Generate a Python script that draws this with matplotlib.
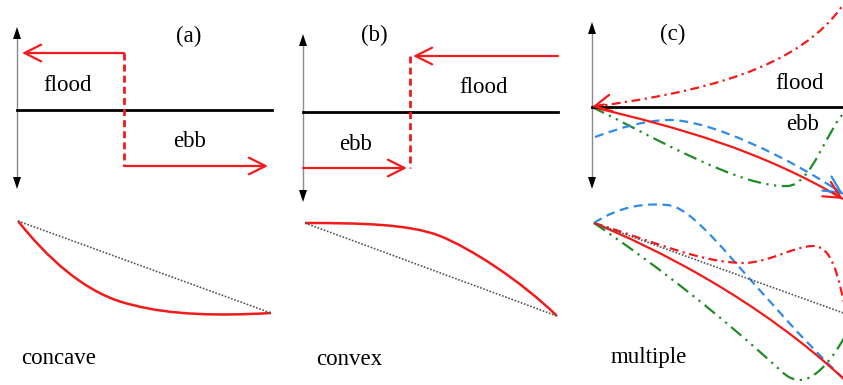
#!/usr/bin/env python3

# Flood/ebb schematic: three tidal asymmetry cases (concave, convex, multiple)

import numpy as np
from matplotlib import pyplot as plt
from matplotlib.path import Path
from matplotlib.patches import PathPatch
import matplotlib

params = {
    'font.family': 'serif',
    'font.serif': ['Liberation Serif', 'DejaVu Serif'],
    'font.size': 16.5,
    'figure.dpi': 100,
}
matplotlib.rcParams.update(params)

RED = '#f21a1a'
BLUE = '#2f8ae8'
GREEN = '#1f8c25'
GREY = '#8a8a8a'

# ---- data (picture pixel coordinates, y downward) ----
panel_labels = ['(a)', '(b)', '(c)']
label_pos = [(176, 42), (361, 41), (660, 40)]
axis_x = [17, 303, 592]
axis_top = [27, 34, 22]
axis_bot = [189, 202, 189]
zero_y = [110, 112, 107]
zero_x1 = [272, 558, 850]

flood_pos = [(43, 91), (459, 93), (775, 89)]
ebb_pos = [(173, 147), (339, 150), (786, 130)]
shape_names = ['concave', 'convex', 'multiple']
shape_pos = [(21, 364), (316, 365), (611, 363)]

# (a) step: flood arrow, dashed turn, ebb arrow
a_flood = [(124, 53), (22, 53)]
a_turn = [(124, 53), (124, 166)]
a_ebb = [(124, 166), (268, 166)]
# (b)
b_flood = [(558, 56), (413, 56)]
b_turn = [(410, 56), (410, 168)]
b_ebb = [(303, 168), (407, 168)]

# (c) top curves, cubic bezier control points
c_red = [(592, 107), (680, 128), (760, 150), (843, 199)]
c_blue = [(595, 137), (620, 128), (645, 120), (670, 120),
          (710, 120), (790, 158), (843, 194)]
c_green = [(592, 107), (650, 135), (740, 188), (787, 186),
           (812, 186), (828, 125), (847, 110)]
c_flood = [(592, 107), (700, 92), (800, 70), (845, 2)]

# bottom curves
a_chord = [(18, 221), (271, 313)]
a_curve = [(18, 221), (45, 255), (85, 295), (133, 305),
           (170, 315), (220, 316), (271, 313)]
b_chord = [(305, 223), (557, 316)]
b_curve = [(305, 223), (360, 223), (410, 224), (440, 236),
           (470, 248), (520, 280), (557, 316)]
c_chord = [(594, 223), (860, 319)]
m_red = [(594, 223), (655, 248), (760, 300), (847, 382)]
m_blue = [(594, 223), (620, 206), (645, 203), (667, 205),
          (700, 207), (750, 290), (847, 382)]
m_reddash = [(594, 223), (650, 240), (700, 263), (745, 263),
             (770, 262), (795, 246), (813, 246),
             (832, 246), (838, 275), (846, 312)]
m_green = [(594, 223), (660, 268), (720, 315), (780, 370),
           (795, 385), (815, 390), (847, 333)]

fig = plt.figure(figsize=(8.43, 3.85))
ax = fig.add_axes([0, 0, 1, 1])
ax.set_xlim(0, 843)
ax.set_ylim(385, 0)
ax.axis('off')

head = '->,head_length=1.2,head_width=0.6'


def bez(pts, **kw):
    codes = [Path.MOVETO] + [Path.CURVE4] * (len(pts) - 1)
    ax.add_patch(PathPatch(Path(pts, codes), fill=False, capstyle='butt', **kw))


def arrow(p0, p1, color=RED, lw=1.6):
    ax.annotate('', xy=p1, xytext=p0,
                arrowprops=dict(arrowstyle=head, color=color, lw=lw,
                                shrinkA=0, shrinkB=0, mutation_scale=10))


def tri(x, ytip, d):
    # filled black arrow tip on the vertical axis; d=-1 up, +1 down
    ax.fill([x - 4, x + 4, x], [ytip - d * 12, ytip - d * 12, ytip],
            color='k', lw=0, zorder=4)


for i in range(3):
    ax.plot([axis_x[i], axis_x[i]], [axis_top[i] + 6, axis_bot[i] - 6],
            color=GREY, lw=1)
    tri(axis_x[i], axis_top[i], -1)
    tri(axis_x[i], axis_bot[i], 1)
    ax.plot([axis_x[i], zero_x1[i]], [zero_y[i], zero_y[i]], color='k', lw=2)
    ax.text(*label_pos[i], panel_labels[i], ha='left', va='baseline')
    ax.text(*flood_pos[i], 'flood', ha='left', va='baseline')
    ax.text(*ebb_pos[i], 'ebb', ha='left', va='baseline')
    ax.text(*shape_pos[i], shape_names[i], ha='left', va='baseline')

# (a)
arrow(*a_flood)
arrow(*a_ebb)
ax.plot(*zip(*a_turn), color=RED, lw=2, ls=(0, (2.5, 1.5)))
# (b)
arrow(*b_flood)
arrow(*b_ebb)
ax.plot(*zip(*b_turn), color=RED, lw=2, ls=(0, (2.5, 1.5)))

# (c) top
bez(c_flood, color=RED, lw=1.6, ls=(0, (4, 2, 1, 2)))
arrow((604, 104.5), (592, 107))
bez(c_green, color=GREEN, lw=1.6, ls=(0, (6, 2.5, 1, 2.5, 1, 2.5)))
bez(c_blue, color=BLUE, lw=1.6, ls=(0, (4, 2.5)))
arrow((833, 187.5), (843, 194), color=BLUE)
bez(c_red, color=RED, lw=1.6)
arrow((833, 193), (843, 199))

# bottom
ax.plot(*zip(*a_chord), color='#555555', lw=1.2, ls=(0, (1, 1)))
bez(a_curve, color=RED, lw=1.8)
ax.plot(*zip(*b_chord), color='#555555', lw=1.2, ls=(0, (1, 1)))
bez(b_curve, color=RED, lw=1.8)
ax.plot(*zip(*c_chord), color='#555555', lw=1.2, ls=(0, (1, 1)))
bez(m_blue, color=BLUE, lw=1.6, ls=(0, (4, 2.5)))
bez(m_reddash, color=RED, lw=1.6, ls=(0, (4, 2, 1, 2)))
bez(m_green, color=GREEN, lw=1.6, ls=(0, (6, 2.5, 1, 2.5, 1, 2.5)))
bez(m_red, color=RED, lw=1.6)

plt.savefig('out.png', dpi=100)
